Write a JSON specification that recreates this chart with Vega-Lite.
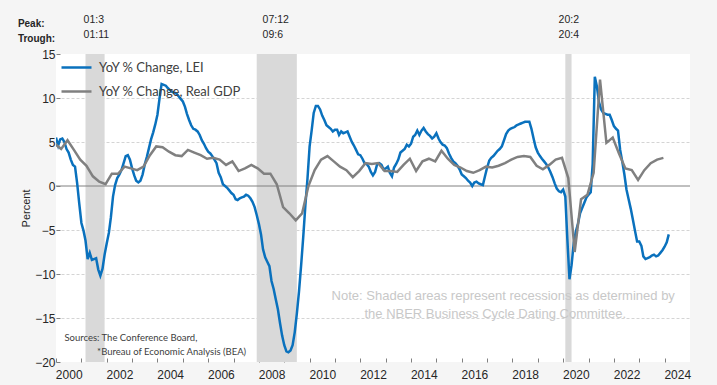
{
  "$schema": "https://vega.github.io/schema/vega-lite/v6.json",
  "width": 634,
  "height": 308,
  "autosize": {"type": "none"},
  "padding": {"left": 56, "top": 54, "right": 27, "bottom": 23},
  "background": "#f5f5f5",
  "config": {"view": {"fill": "white", "stroke": null}, "font": "Liberation Sans"},
  "datasets": {
    "rec": [
      {"date": "2001-03-01", "end": "2001-12-01"},
      {"date": "2007-12-01", "end": "2009-07-01"},
      {"date": "2020-02-01", "end": "2020-05-01"}
    ],
    "lei": [
      {"date":"2000-01-01","value":5.5},{"date":"2000-02-01","value":4.6},{"date":"2000-03-01","value":5.3},{"date":"2000-04-01","value":5.4},{"date":"2000-05-01","value":5.0},{"date":"2000-06-01","value":4.2},{"date":"2000-07-01","value":3.8},{"date":"2000-08-01","value":3.0},{"date":"2000-09-01","value":2.4},{"date":"2000-10-01","value":2.2},{"date":"2000-11-01","value":0.3},{"date":"2000-12-01","value":-2.0},
      {"date":"2001-01-01","value":-4.2},{"date":"2001-02-01","value":-5.1},{"date":"2001-03-01","value":-6.2},{"date":"2001-04-01","value":-8.3},{"date":"2001-05-01","value":-7.6},{"date":"2001-06-01","value":-8.4},{"date":"2001-07-01","value":-8.3},{"date":"2001-08-01","value":-8.2},{"date":"2001-09-01","value":-9.5},{"date":"2001-10-01","value":-10.2},{"date":"2001-11-01","value":-9.4},{"date":"2001-12-01","value":-7.8},
      {"date":"2002-01-01","value":-6.5},{"date":"2002-02-01","value":-5.3},{"date":"2002-03-01","value":-3.6},{"date":"2002-04-01","value":-1.2},{"date":"2002-05-01","value":0.1},{"date":"2002-06-01","value":0.9},{"date":"2002-07-01","value":1.3},{"date":"2002-08-01","value":1.8},{"date":"2002-09-01","value":2.6},{"date":"2002-10-01","value":3.4},{"date":"2002-11-01","value":3.5},{"date":"2002-12-01","value":3.0},
      {"date":"2003-01-01","value":2.0},{"date":"2003-02-01","value":1.2},{"date":"2003-03-01","value":0.6},{"date":"2003-04-01","value":0.4},{"date":"2003-05-01","value":0.6},{"date":"2003-06-01","value":1.3},{"date":"2003-07-01","value":2.4},{"date":"2003-08-01","value":3.3},{"date":"2003-09-01","value":4.3},{"date":"2003-10-01","value":5.3},{"date":"2003-11-01","value":6.1},{"date":"2003-12-01","value":7.0},
      {"date":"2004-01-01","value":8.1},{"date":"2004-02-01","value":10.0},{"date":"2004-03-01","value":11.6},{"date":"2004-04-01","value":11.5},{"date":"2004-05-01","value":11.4},{"date":"2004-06-01","value":11.1},{"date":"2004-07-01","value":10.9},{"date":"2004-08-01","value":10.7},{"date":"2004-09-01","value":10.6},{"date":"2004-10-01","value":10.5},{"date":"2004-11-01","value":10.2},{"date":"2004-12-01","value":9.9},
      {"date":"2005-01-01","value":9.6},{"date":"2005-02-01","value":9.0},{"date":"2005-03-01","value":8.2},{"date":"2005-04-01","value":7.5},{"date":"2005-05-01","value":6.9},{"date":"2005-06-01","value":6.5},{"date":"2005-07-01","value":6.4},{"date":"2005-08-01","value":6.2},{"date":"2005-09-01","value":5.8},{"date":"2005-10-01","value":5.2},{"date":"2005-11-01","value":4.8},{"date":"2005-12-01","value":4.3},
      {"date":"2006-01-01","value":3.9},{"date":"2006-02-01","value":3.7},{"date":"2006-03-01","value":3.4},{"date":"2006-04-01","value":3.0},{"date":"2006-05-01","value":2.6},{"date":"2006-06-01","value":1.5},{"date":"2006-07-01","value":1.0},{"date":"2006-08-01","value":0.2},{"date":"2006-09-01","value":0.0},{"date":"2006-10-01","value":-0.2},{"date":"2006-11-01","value":-0.5},{"date":"2006-12-01","value":-0.8},
      {"date":"2007-01-01","value":-1.0},{"date":"2007-02-01","value":-1.5},{"date":"2007-03-01","value":-1.6},{"date":"2007-04-01","value":-1.4},{"date":"2007-05-01","value":-1.3},{"date":"2007-06-01","value":-1.2},{"date":"2007-07-01","value":-1.0},{"date":"2007-08-01","value":-1.1},{"date":"2007-09-01","value":-1.4},{"date":"2007-10-01","value":-1.8},{"date":"2007-11-01","value":-2.4},{"date":"2007-12-01","value":-3.3},
      {"date":"2008-01-01","value":-4.3},{"date":"2008-02-01","value":-5.5},{"date":"2008-03-01","value":-7.2},{"date":"2008-04-01","value":-8.1},{"date":"2008-05-01","value":-8.6},{"date":"2008-06-01","value":-9.1},{"date":"2008-07-01","value":-10.8},{"date":"2008-08-01","value":-11.7},{"date":"2008-09-01","value":-12.9},{"date":"2008-10-01","value":-14.0},{"date":"2008-11-01","value":-15.6},{"date":"2008-12-01","value":-17.0},
      {"date":"2009-01-01","value":-18.1},{"date":"2009-02-01","value":-18.8},{"date":"2009-03-01","value":-18.9},{"date":"2009-04-01","value":-18.7},{"date":"2009-05-01","value":-18.1},{"date":"2009-06-01","value":-16.6},{"date":"2009-07-01","value":-14.5},{"date":"2009-08-01","value":-12.0},{"date":"2009-09-01","value":-9.0},{"date":"2009-10-01","value":-5.8},{"date":"2009-11-01","value":-2.2},{"date":"2009-12-01","value":0.8},
      {"date":"2010-01-01","value":4.5},{"date":"2010-02-01","value":6.4},{"date":"2010-03-01","value":8.3},{"date":"2010-04-01","value":9.1},{"date":"2010-05-01","value":9.1},{"date":"2010-06-01","value":8.7},{"date":"2010-07-01","value":8.0},{"date":"2010-08-01","value":7.5},{"date":"2010-09-01","value":6.9},{"date":"2010-10-01","value":6.7},{"date":"2010-11-01","value":6.5},{"date":"2010-12-01","value":6.2},
      {"date":"2011-01-01","value":6.4},{"date":"2011-02-01","value":6.4},{"date":"2011-03-01","value":5.8},{"date":"2011-04-01","value":6.2},{"date":"2011-05-01","value":6.0},{"date":"2011-06-01","value":6.1},{"date":"2011-07-01","value":6.2},{"date":"2011-08-01","value":5.6},{"date":"2011-09-01","value":5.0},{"date":"2011-10-01","value":4.6},{"date":"2011-11-01","value":4.1},{"date":"2011-12-01","value":3.6},
      {"date":"2012-01-01","value":3.5},{"date":"2012-02-01","value":3.1},{"date":"2012-03-01","value":2.6},{"date":"2012-04-01","value":2.5},{"date":"2012-05-01","value":2.2},{"date":"2012-06-01","value":1.6},{"date":"2012-07-01","value":1.2},{"date":"2012-08-01","value":1.6},{"date":"2012-09-01","value":2.5},{"date":"2012-10-01","value":2.6},{"date":"2012-11-01","value":2.4},{"date":"2012-12-01","value":1.9},
      {"date":"2013-01-01","value":2.0},{"date":"2013-02-01","value":2.2},{"date":"2013-03-01","value":1.5},{"date":"2013-04-01","value":1.1},{"date":"2013-05-01","value":2.1},{"date":"2013-06-01","value":2.5},{"date":"2013-07-01","value":3.0},{"date":"2013-08-01","value":3.8},{"date":"2013-09-01","value":4.0},{"date":"2013-10-01","value":4.2},{"date":"2013-11-01","value":4.7},{"date":"2013-12-01","value":4.5},
      {"date":"2014-01-01","value":4.8},{"date":"2014-02-01","value":5.6},{"date":"2014-03-01","value":5.8},{"date":"2014-04-01","value":6.3},{"date":"2014-05-01","value":5.8},{"date":"2014-06-01","value":6.3},{"date":"2014-07-01","value":6.6},{"date":"2014-08-01","value":6.2},{"date":"2014-09-01","value":5.9},{"date":"2014-10-01","value":5.7},{"date":"2014-11-01","value":5.4},{"date":"2014-12-01","value":5.6},
      {"date":"2015-01-01","value":6.0},{"date":"2015-02-01","value":5.4},{"date":"2015-03-01","value":5.0},{"date":"2015-04-01","value":4.7},{"date":"2015-05-01","value":4.6},{"date":"2015-06-01","value":4.3},{"date":"2015-07-01","value":3.7},{"date":"2015-08-01","value":3.2},{"date":"2015-09-01","value":2.8},{"date":"2015-10-01","value":2.6},{"date":"2015-11-01","value":2.3},{"date":"2015-12-01","value":1.9},
      {"date":"2016-01-01","value":1.3},{"date":"2016-02-01","value":1.1},{"date":"2016-03-01","value":0.9},{"date":"2016-04-01","value":0.6},{"date":"2016-05-01","value":0.4},{"date":"2016-06-01","value":0.0},{"date":"2016-07-01","value":0.4},{"date":"2016-08-01","value":0.5},{"date":"2016-09-01","value":0.3},{"date":"2016-10-01","value":0.2},{"date":"2016-11-01","value":0.1},{"date":"2016-12-01","value":1.1},
      {"date":"2017-01-01","value":2.1},{"date":"2017-02-01","value":2.9},{"date":"2017-03-01","value":3.2},{"date":"2017-04-01","value":3.4},{"date":"2017-05-01","value":3.7},{"date":"2017-06-01","value":4.0},{"date":"2017-07-01","value":4.2},{"date":"2017-08-01","value":4.5},{"date":"2017-09-01","value":5.2},{"date":"2017-10-01","value":5.9},{"date":"2017-11-01","value":6.3},{"date":"2017-12-01","value":6.5},
      {"date":"2018-01-01","value":6.6},{"date":"2018-02-01","value":6.7},{"date":"2018-03-01","value":6.9},{"date":"2018-04-01","value":7.0},{"date":"2018-05-01","value":7.1},{"date":"2018-06-01","value":7.2},{"date":"2018-07-01","value":7.3},{"date":"2018-08-01","value":7.3},{"date":"2018-09-01","value":7.3},{"date":"2018-10-01","value":6.5},{"date":"2018-11-01","value":5.4},{"date":"2018-12-01","value":4.4},
      {"date":"2019-01-01","value":3.8},{"date":"2019-02-01","value":3.4},{"date":"2019-03-01","value":3.1},{"date":"2019-04-01","value":2.8},{"date":"2019-05-01","value":2.5},{"date":"2019-06-01","value":2.1},{"date":"2019-07-01","value":1.6},{"date":"2019-08-01","value":1.0},{"date":"2019-09-01","value":0.3},{"date":"2019-10-01","value":-0.3},{"date":"2019-11-01","value":-0.6},{"date":"2019-12-01","value":-0.7},
      {"date":"2020-01-01","value":-0.4},{"date":"2020-02-01","value":-1.2},{"date":"2020-03-01","value":-6.0},{"date":"2020-04-01","value":-10.6},{"date":"2020-05-01","value":-9.0},{"date":"2020-06-01","value":-6.5},{"date":"2020-07-01","value":-5.2},{"date":"2020-08-01","value":-4.3},{"date":"2020-09-01","value":-3.1},{"date":"2020-10-01","value":-2.5},{"date":"2020-11-01","value":-1.9},{"date":"2020-12-01","value":-1.3},
      {"date":"2021-01-01","value":-1.0},{"date":"2021-02-01","value":-0.7},{"date":"2021-03-01","value":2.5},{"date":"2021-04-01","value":12.4},{"date":"2021-05-01","value":11.3},{"date":"2021-06-01","value":9.5},{"date":"2021-07-01","value":8.7},{"date":"2021-08-01","value":8.3},{"date":"2021-09-01","value":8.2},{"date":"2021-10-01","value":8.1},{"date":"2021-11-01","value":8.1},{"date":"2021-12-01","value":7.5},
      {"date":"2022-01-01","value":6.8},{"date":"2022-02-01","value":6.5},{"date":"2022-03-01","value":6.3},{"date":"2022-04-01","value":4.1},{"date":"2022-05-01","value":2.8},{"date":"2022-06-01","value":1.3},{"date":"2022-07-01","value":-0.4},{"date":"2022-08-01","value":-1.5},{"date":"2022-09-01","value":-2.6},{"date":"2022-10-01","value":-3.8},{"date":"2022-11-01","value":-5.1},{"date":"2022-12-01","value":-6.3},
      {"date":"2023-01-01","value":-6.3},{"date":"2023-02-01","value":-6.8},{"date":"2023-03-01","value":-8.0},{"date":"2023-04-01","value":-8.3},{"date":"2023-05-01","value":-8.2},{"date":"2023-06-01","value":-8.1},{"date":"2023-07-01","value":-7.9},{"date":"2023-08-01","value":-7.8},{"date":"2023-09-01","value":-8.0},{"date":"2023-10-01","value":-7.9},{"date":"2023-11-01","value":-7.6},{"date":"2023-12-01","value":-7.3},
      {"date":"2024-01-01","value":-6.9},{"date":"2024-02-01","value":-6.4},{"date":"2024-03-01","value":-5.5}
    ],
    "gdp": [
      {"date":"1999-12-15","value":4.8},
      {"date":"2000-03-15","value":4.2},{"date":"2000-06-15","value":5.2},{"date":"2000-09-15","value":4.1},{"date":"2000-12-15","value":3.0},
      {"date":"2001-03-15","value":2.3},{"date":"2001-06-15","value":1.1},{"date":"2001-09-15","value":0.5},{"date":"2001-12-15","value":0.2},
      {"date":"2002-03-15","value":1.4},{"date":"2002-06-15","value":1.4},{"date":"2002-09-15","value":2.2},{"date":"2002-12-15","value":2.0},
      {"date":"2003-03-15","value":1.8},{"date":"2003-06-15","value":2.2},{"date":"2003-09-15","value":3.5},{"date":"2003-12-15","value":4.5},
      {"date":"2004-03-15","value":4.4},{"date":"2004-06-15","value":3.9},{"date":"2004-09-15","value":3.5},{"date":"2004-12-15","value":3.4},
      {"date":"2005-03-15","value":4.1},{"date":"2005-06-15","value":3.8},{"date":"2005-09-15","value":3.5},{"date":"2005-12-15","value":3.1},
      {"date":"2006-03-15","value":3.2},{"date":"2006-06-15","value":3.0},{"date":"2006-09-15","value":2.4},{"date":"2006-12-15","value":2.8},
      {"date":"2007-03-15","value":1.7},{"date":"2007-06-15","value":2.0},{"date":"2007-09-15","value":2.4},{"date":"2007-12-15","value":2.0},
      {"date":"2008-03-15","value":1.4},{"date":"2008-06-15","value":1.4},{"date":"2008-09-15","value":0.2},{"date":"2008-12-15","value":-2.4},
      {"date":"2009-03-15","value":-3.1},{"date":"2009-06-15","value":-3.9},{"date":"2009-09-15","value":-3.1},{"date":"2009-12-15","value":0.0},
      {"date":"2010-03-15","value":1.8},{"date":"2010-06-15","value":3.0},{"date":"2010-09-15","value":3.4},{"date":"2010-12-15","value":2.8},
      {"date":"2011-03-15","value":2.2},{"date":"2011-06-15","value":1.8},{"date":"2011-09-15","value":1.0},{"date":"2011-12-15","value":1.7},
      {"date":"2012-03-15","value":2.6},{"date":"2012-06-15","value":2.5},{"date":"2012-09-15","value":2.6},{"date":"2012-12-15","value":1.7},
      {"date":"2013-03-15","value":1.7},{"date":"2013-06-15","value":1.6},{"date":"2013-09-15","value":2.4},{"date":"2013-12-15","value":3.1},
      {"date":"2014-03-15","value":1.7},{"date":"2014-06-15","value":2.8},{"date":"2014-09-15","value":3.1},{"date":"2014-12-15","value":2.8},
      {"date":"2015-03-15","value":4.0},{"date":"2015-06-15","value":3.1},{"date":"2015-09-15","value":2.4},{"date":"2015-12-15","value":2.1},
      {"date":"2016-03-15","value":1.7},{"date":"2016-06-15","value":1.5},{"date":"2016-09-15","value":1.8},{"date":"2016-12-15","value":2.2},
      {"date":"2017-03-15","value":2.1},{"date":"2017-06-15","value":2.3},{"date":"2017-09-15","value":2.6},{"date":"2017-12-15","value":3.0},
      {"date":"2018-03-15","value":3.3},{"date":"2018-06-15","value":3.4},{"date":"2018-09-15","value":3.3},{"date":"2018-12-15","value":2.3},
      {"date":"2019-03-15","value":1.9},{"date":"2019-06-15","value":2.4},{"date":"2019-09-15","value":3.0},{"date":"2019-12-15","value":3.2},
      {"date":"2020-03-15","value":0.9},{"date":"2020-06-15","value":-7.5},{"date":"2020-09-15","value":-1.5},{"date":"2020-12-15","value":-1.0},
      {"date":"2021-03-15","value":1.5},{"date":"2021-06-15","value":12.1},{"date":"2021-09-15","value":4.9},{"date":"2021-12-15","value":5.5},
      {"date":"2022-03-15","value":3.7},{"date":"2022-06-15","value":2.0},{"date":"2022-09-15","value":1.8},{"date":"2022-12-15","value":0.7},
      {"date":"2023-03-15","value":1.8},{"date":"2023-06-15","value":2.6},{"date":"2023-09-15","value":3.0},{"date":"2023-12-15","value":3.2}
    ],
    "hdr": [
      {"date": "1998-07-01", "value": 18.4, "label": "Peak:"},
      {"date": "1998-07-01", "value": 16.7, "label": "Trough:"}
    ],
    "dates": [
      {"date": "2001-02-01", "value": 18.9, "label": "01:3"},
      {"date": "2001-02-01", "value": 17.2, "label": "01:11"},
      {"date": "2008-02-24", "value": 18.9, "label": "07:12"},
      {"date": "2008-02-24", "value": 17.2, "label": "09:6"},
      {"date": "2019-10-27", "value": 18.9, "label": "20:2"},
      {"date": "2019-10-27", "value": 17.2, "label": "20:4"}
    ],
    "src": [
      {"date": "2000-05-01", "value": -17.3, "label": "Sources: The Conference Board,"},
      {"date": "2001-08-15", "value": -18.9, "label": "*Bureau of Economic Analysis (BEA)"}
    ],
    "note": [
      {"date": "2010-11-14", "value": -12.5, "label": "Note: Shaded areas represent recessions as determined by"},
      {"date": "2012-03-01", "value": -14.5, "label": "the NBER Business Cycle Dating Committee."}
    ]
  },
  "encoding": {
    "x": {
      "field": "date",
      "type": "temporal",
      "scale": {"type": "utc", "domain": [{"year": 2000, "month": 1, "date": 1, "utc": true}, {"year": 2025, "month": 1, "date": 1, "utc": true}]},
      "axis": {
        "title": null,
        "domain": false,
        "grid": false,
        "values": [
          {"year": 2000, "month": 1, "date": 1, "utc": true}, {"year": 2001, "month": 1, "date": 1, "utc": true},
          {"year": 2002, "month": 1, "date": 1, "utc": true}, {"year": 2003, "month": 1, "date": 1, "utc": true},
          {"year": 2004, "month": 1, "date": 1, "utc": true}, {"year": 2005, "month": 1, "date": 1, "utc": true},
          {"year": 2006, "month": 1, "date": 1, "utc": true}, {"year": 2007, "month": 1, "date": 1, "utc": true},
          {"year": 2008, "month": 1, "date": 1, "utc": true}, {"year": 2009, "month": 1, "date": 1, "utc": true},
          {"year": 2010, "month": 1, "date": 1, "utc": true}, {"year": 2011, "month": 1, "date": 1, "utc": true},
          {"year": 2012, "month": 1, "date": 1, "utc": true}, {"year": 2013, "month": 1, "date": 1, "utc": true},
          {"year": 2014, "month": 1, "date": 1, "utc": true}, {"year": 2015, "month": 1, "date": 1, "utc": true},
          {"year": 2016, "month": 1, "date": 1, "utc": true}, {"year": 2017, "month": 1, "date": 1, "utc": true},
          {"year": 2018, "month": 1, "date": 1, "utc": true}, {"year": 2019, "month": 1, "date": 1, "utc": true},
          {"year": 2020, "month": 1, "date": 1, "utc": true}, {"year": 2021, "month": 1, "date": 1, "utc": true},
          {"year": 2022, "month": 1, "date": 1, "utc": true}, {"year": 2023, "month": 1, "date": 1, "utc": true},
          {"year": 2024, "month": 1, "date": 1, "utc": true}
        ],
        "labelExpr": "utcyear(datum.value) % 2 == 0 ? utcFormat(datum.value, '%Y') : ''",
        "labelOffset": 12.7,
        "labelFlush": false,
        "labelOverlap": false,
        "labelBound": false,
        "labelFontSize": 12,
        "labelColor": "#262626",
        "labelPadding": 11,
        "tickSize": -4,
        "tickColor": "#808080"
      }
    }
  },
  "layer": [
    {
      "data": {"name": "rec"},
      "mark": {"type": "rect", "color": "#d9d9d9"},
      "encoding": {"x2": {"field": "end"}}
    },
    {
      "data": {"values": [{"value": 0}]},
      "mark": {"type": "rule", "color": "#808080", "strokeWidth": 1},
      "encoding": {
        "x": null,
        "y": {
          "field": "value",
          "type": "quantitative",
          "scale": {"domain": [-20, 15], "nice": false, "zero": false},
          "axis": {
            "title": "Percent",
            "titleFontSize": 11,
            "titleFontWeight": "normal",
            "titleColor": "#262626",
            "titlePadding": 3,
            "values": [-20, -15, -10, -5, 0, 5, 10, 15],
            "domain": false,
            "grid": true,
            "gridColor": "#d4d4d4",
            "gridDash": [3, 2],
            "gridOpacity": {"condition": {"test": "datum.value == 15 || datum.value == -20 || datum.value == 0", "value": 0}, "value": 1},
            "tickSize": -4,
            "tickColor": "#808080",
            "labelFontSize": 12,
            "labelColor": "#262626",
            "labelPadding": 5
          }
        }
      }
    },
    {
      "data": {"name": "lei"},
      "mark": {"type": "line", "strokeWidth": 2.5, "clip": true},
      "encoding": {
        "y": {"field": "value", "type": "quantitative"},
        "color": {
          "datum": "YoY % Change, LEI",
          "type": "nominal",
          "scale": {"domain": ["YoY % Change, LEI", "YoY % Change, Real GDP"], "range": ["#0A71BD", "#808080"]},
          "legend": {
            "title": null,
            "orient": "none",
            "legendX": 4,
            "legendY": -3,
            "symbolType": "stroke",
            "symbolSize": 900,
            "symbolStrokeWidth": 2.5,
            "rowPadding": -8,
            "labelOffset": 6,
            "labelFont": "Lato",
            "labelFontSize": 13,
            "labelColor": "#404040"
          }
        }
      }
    },
    {
      "data": {"name": "gdp"},
      "mark": {"type": "line", "strokeWidth": 2.5, "clip": true},
      "encoding": {
        "y": {"field": "value", "type": "quantitative"},
        "color": {"datum": "YoY % Change, Real GDP", "type": "nominal"}
      }
    },
    {
      "data": {"name": "hdr"},
      "mark": {"type": "text", "align": "left", "baseline": "middle", "fontSize": 10, "fontWeight": "bold", "color": "#262626"},
      "encoding": {"y": {"field": "value", "type": "quantitative"}, "text": {"field": "label"}}
    },
    {
      "data": {"name": "dates"},
      "mark": {"type": "text", "align": "left", "baseline": "middle", "fontSize": 10.5, "color": "#262626"},
      "encoding": {"y": {"field": "value", "type": "quantitative"}, "text": {"field": "label"}}
    },
    {
      "data": {"name": "src"},
      "mark": {"type": "text", "align": "left", "baseline": "middle", "fontSize": 9.5, "font": "Lato", "color": "#404040"},
      "encoding": {"y": {"field": "value", "type": "quantitative"}, "text": {"field": "label"}}
    },
    {
      "data": {"name": "note"},
      "mark": {"type": "text", "align": "left", "baseline": "middle", "fontSize": 13, "color": "#c8c8c8"},
      "encoding": {"y": {"field": "value", "type": "quantitative"}, "text": {"field": "label"}}
    }
  ]
}
